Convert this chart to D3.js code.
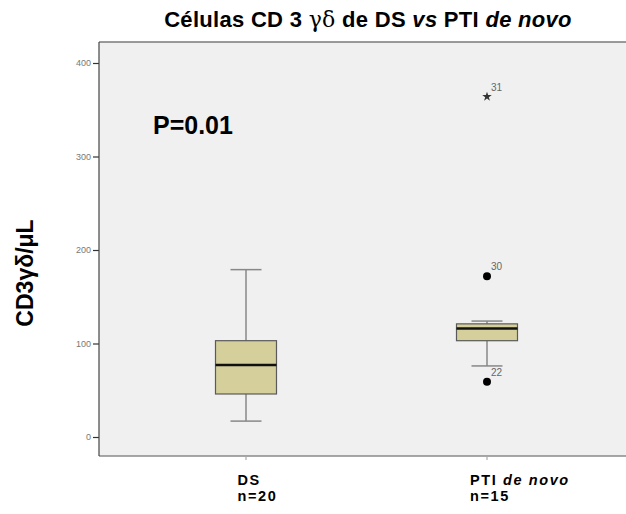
<!DOCTYPE html>
<html>
<head>
<meta charset="utf-8">
<script src="https://cdn.jsdelivr.net/npm/d3@7/dist/d3.min.js"></script>
<style>
  html, body { margin: 0; padding: 0; background: #fff; }
  svg { display: block; font-family: Arial, "Liberation Sans", sans-serif; }
</style>
</head>
<body>
<svg id="chart" width="626" height="514"></svg>
<script>
// Groups and their box statistics (CD3 γδ cells per µL)
const categories = ["DS", "PTI de novo"];
const groupSizes = [20, 15];
const whiskerLow = [17, 76];
const q1 = [46, 103];
const median = [77, 116];
const q3 = [103, 121];
const whiskerHigh = [179, 124];
// Outliers: [group index, value, case label, kind]
const outliers = [
  [1, 172, "30", "outlier"],
  [1, 59, "22", "outlier"],
  [1, 364, "31", "extreme"]
];
const yTicks = [0, 100, 200, 300, 400];

const svg = d3.select("#chart");
const plot = { left: 99, right: 634, top: 42, bottom: 456 };

const x = d3.scalePoint().domain(categories).range([125.5, 607.5]).padding(0.5);
const y = d3.scaleLinear().domain([0, 400]).range([437, 63]);

// plot background
svg.append("rect")
  .attr("x", plot.left).attr("y", plot.top)
  .attr("width", plot.right - plot.left).attr("height", plot.bottom - plot.top)
  .attr("fill", "#f0f0f0");

// frame lines
svg.append("line").attr("x1", plot.left).attr("x2", plot.right).attr("y1", plot.top).attr("y2", plot.top)
  .attr("stroke", "#7a7a7a").attr("stroke-width", 1.5);
svg.append("line").attr("x1", plot.left).attr("x2", plot.right).attr("y1", plot.bottom).attr("y2", plot.bottom)
  .attr("stroke", "#8a8a8a").attr("stroke-width", 1.5);

// y axis
const yAxis = d3.axisLeft(y).tickValues(yTicks).tickSize(6).tickPadding(2);
const gy = svg.append("g").attr("transform", `translate(${plot.left},0)`).call(yAxis);
gy.select(".domain").remove();
gy.append("line").attr("x1", 0).attr("x2", 0).attr("y1", plot.top).attr("y2", plot.bottom)
  .attr("stroke", "#444").attr("stroke-width", 1.2);
gy.selectAll(".tick line").attr("stroke", "#333").attr("stroke-width", 1.2);
gy.selectAll(".tick text").attr("fill", "#777").attr("font-size", 9);

// x axis ticks (small marks at group centres)
const cx = c => x(c);
svg.selectAll(".xtick").data(categories).enter().append("line")
  .attr("x1", cx).attr("x2", cx).attr("y1", plot.bottom + 1).attr("y2", plot.bottom + 4)
  .attr("stroke", "#999").attr("stroke-width", 1);

// boxes
const boxW = 61, capW = 31;
categories.forEach((c, i) => {
  const xc = cx(c);
  const g = svg.append("g");
  // whiskers
  g.append("line").attr("x1", xc).attr("x2", xc).attr("y1", y(q3[i])).attr("y2", y(whiskerHigh[i]))
    .attr("stroke", "#888").attr("stroke-width", 1.5);
  g.append("line").attr("x1", xc).attr("x2", xc).attr("y1", y(q1[i])).attr("y2", y(whiskerLow[i]))
    .attr("stroke", "#888").attr("stroke-width", 1.5);
  g.append("line").attr("x1", xc - capW / 2).attr("x2", xc + capW / 2).attr("y1", y(whiskerHigh[i])).attr("y2", y(whiskerHigh[i]))
    .attr("stroke", "#888").attr("stroke-width", 1.5);
  g.append("line").attr("x1", xc - capW / 2).attr("x2", xc + capW / 2).attr("y1", y(whiskerLow[i])).attr("y2", y(whiskerLow[i]))
    .attr("stroke", "#888").attr("stroke-width", 1.5);
  // box
  g.append("rect").attr("x", xc - boxW / 2).attr("width", boxW)
    .attr("y", y(q3[i])).attr("height", y(q1[i]) - y(q3[i]))
    .attr("fill", "#d4cf9b").attr("stroke", "#5a5a5a").attr("stroke-width", 1.2);
  // median
  g.append("line").attr("x1", xc - boxW / 2).attr("x2", xc + boxW / 2).attr("y1", y(median[i])).attr("y2", y(median[i]))
    .attr("stroke", "#111").attr("stroke-width", 2.5);
});

// outliers
outliers.forEach(([gi, v, lab, kind]) => {
  const xc = cx(categories[gi]);
  if (kind === "extreme") {
    svg.append("path").attr("d", d3.symbol(d3.symbolStar, 28)())
      .attr("transform", `translate(${xc},${y(v)})`).attr("fill", "#333");
  } else {
    svg.append("circle").attr("cx", xc).attr("cy", y(v)).attr("r", 4).attr("fill", "#000");
  }
  svg.append("text").attr("x", xc + 4).attr("y", y(v) - 6)
    .attr("font-size", 10).attr("fill", "#666").text(lab);
});

// P value annotation
svg.append("text").attr("x", 153).attr("y", 134).attr("font-size", 25).attr("font-weight", "bold")
  .attr("fill", "#000").text("P=0.01");

// title
const title = svg.append("text").attr("x", 368).attr("y", 27).attr("text-anchor", "middle")
  .attr("font-size", 22).attr("font-weight", "bold").attr("letter-spacing", 0.3).attr("fill", "#000");
title.append("tspan").text("Células CD 3 ");
title.append("tspan").attr("font-family", "'DejaVu Serif', 'Liberation Serif', serif").attr("font-weight", "normal").text("γδ");
title.append("tspan").text(" de DS ");
title.append("tspan").attr("font-style", "italic").text("vs");
title.append("tspan").text(" PTI ");
title.append("tspan").attr("font-style", "italic").text("de novo");

// y axis label
svg.append("text").attr("transform", "translate(33,273) rotate(-90)").attr("text-anchor", "middle")
  .attr("font-size", 23).attr("font-weight", "bold").attr("fill", "#000").text("CD3γδ/μL");

// category labels
categories.forEach((c, i) => {
  const left = i === 0 ? cx(c) - 8.5 : cx(c) - 17;
  const t = svg.append("text").attr("x", left).attr("y", 485).attr("font-size", 14.5)
    .attr("font-weight", "bold").attr("letter-spacing", 1.6);
  if (c === "PTI de novo") {
    t.append("tspan").text("PTI ");
    t.append("tspan").attr("font-style", "italic").text("de novo");
  } else {
    t.text(c);
  }
  svg.append("text").attr("x", left).attr("y", 501).attr("font-size", 14.5).attr("font-weight", "bold")
    .attr("letter-spacing", 1.6).text("n=" + groupSizes[i]);
});
</script>
</body>
</html>
